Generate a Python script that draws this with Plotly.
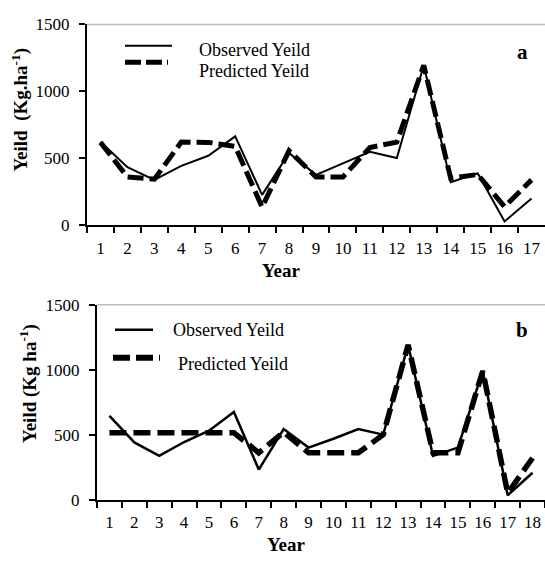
import plotly.graph_objects as go

years_a = [str(i) for i in range(1, 18)]
observed_a = [625, 435, 340, 445, 520, 665, 228, 540, 378, 462, 550, 503, 1195, 322, 390, 30, 202]
predicted_a = [620, 362, 345, 622, 620, 590, 137, 558, 362, 362, 582, 622, 1195, 352, 380, 140, 340]

years_b = [str(i) for i in range(1, 19)]
observed_b = [645, 440, 336, 443, 530, 675, 231, 543, 400, 468, 543, 500, 1190, 336, 400, 990, 33, 207]
predicted_b = [515, 515, 515, 515, 515, 515, 360, 520, 360, 360, 360, 500, 1190, 360, 360, 990, 50, 320]

y_ticks = [0, 500, 1000, 1500]

W, H = 545, 564
def px(x):
    return min(1.0, max(0.0, x / W))
def py(y):
    return min(1.0, max(0.0, 1 - y / H))

FONT = "Liberation Serif, Times New Roman, serif"

fig = go.Figure()
fig.add_trace(go.Scatter(x=years_a, y=observed_a, mode="lines", line=dict(color="black", width=2),
                         xaxis="x", yaxis="y", showlegend=False))
fig.add_trace(go.Scatter(x=years_a, y=predicted_a, mode="lines", line=dict(color="black", width=5, dash="16px,6px"),
                         xaxis="x", yaxis="y", showlegend=False))
fig.add_trace(go.Scatter(x=years_b, y=observed_b, mode="lines", line=dict(color="black", width=2.5),
                         xaxis="x2", yaxis="y2", showlegend=False))
fig.add_trace(go.Scatter(x=years_b, y=predicted_b, mode="lines", line=dict(color="black", width=5.5, dash="17px,7px"),
                         xaxis="x2", yaxis="y2", showlegend=False))

xcommon = dict(type="category", tickson="boundaries", ticks="outside", ticklen=6, tickwidth=2, tickcolor="black",
               showline=True, linecolor="black", linewidth=2, showgrid=False, zeroline=False, tickangle=0,
               tickfont=dict(family=FONT, size=17, color="black"), ticklabelstandoff=6)
ycommon = dict(range=[0, 1500], tickvals=y_ticks, ticks="outside", ticklen=6, tickwidth=2, tickcolor="black",
               showline=True, linecolor="black", linewidth=2, showgrid=False, zeroline=False,
               tickfont=dict(family=FONT, size=17, color="black"), ticklabelstandoff=6)

fig.update_layout(
    width=W, height=H,
    margin=dict(l=0, r=0, t=0, b=0),
    paper_bgcolor="white", plot_bgcolor="white",
    showlegend=False,
    xaxis=dict(domain=[px(87), px(546)], anchor="y", range=[-0.5, len(years_a) - 0.5], **xcommon),
    yaxis=dict(domain=[py(224), py(16)], anchor="x", **ycommon),
    xaxis2=dict(domain=[px(97), px(546)], anchor="y2", range=[-0.5, len(years_b) - 0.5], **xcommon),
    yaxis2=dict(domain=[py(507.7), py(306)], anchor="x2", **ycommon),
)

# top gray border lines
for xr, yr in (("x domain", "y domain"), ("x2 domain", "y2 domain")):
    fig.add_shape(type="line", xref=xr, yref=yr, x0=0, x1=1, y0=1, y1=1,
                  line=dict(color="#bdbdbd", width=1.5))

# manual legends
fig.add_shape(type="line", xref="paper", yref="paper", x0=px(125), x1=px(172), y0=py(38), y1=py(38),
              line=dict(color="black", width=2))
fig.add_shape(type="line", xref="paper", yref="paper", x0=px(125), x1=px(168), y0=py(55), y1=py(55),
              line=dict(color="black", width=5, dash="16px,5px"))
fig.add_shape(type="line", xref="paper", yref="paper", x0=px(115), x1=px(153), y0=py(332), y1=py(332),
              line=dict(color="black", width=2.5))
fig.add_shape(type="line", xref="paper", yref="paper", x0=px(113), x1=px(160), y0=py(361), y1=py(361),
              line=dict(color="black", width=6, dash="17px,6px"))

def text(x, y, s, size=16, bold=False, xanchor="left", angle=0):
    fig.add_annotation(x=px(x), y=py(y), xref="paper", yref="paper", text=(f"<b>{s}</b>" if bold else s),
                       showarrow=False, xanchor=xanchor, yanchor="middle", textangle=angle,
                       font=dict(family=FONT, size=size, color="black"))

text(197, 42, "Observed Yeild", size=18)
text(197, 64, "Predicted Yeild", size=18)
text(171, 332, "Observed Yeild", size=18)
text(176, 367, "Predicted Yeild", size=18)
text(522, 45, "a", size=21, bold=True, xanchor="center")
text(522, 332, "b", size=21, bold=True, xanchor="center")
text(281, 271, "Year", size=19, bold=True, xanchor="center")
text(286, 554, "Year", size=19, bold=True, xanchor="center")
text(20, 104, "Yeild  (Kg.ha<sup>-1</sup>)", size=19, bold=True, xanchor="center", angle=-90)
text(29, 388, "Yeild (Kg ha<sup>-1</sup>)", size=19, bold=True, xanchor="center", angle=-90)

# pin the figure to the window's top-left corner (no page margins / scroll)
post = (
    "document.documentElement.style.margin='0';"
    "document.documentElement.style.overflow='hidden';"
    "document.body.style.margin='0';"
    "document.body.style.overflow='hidden';"
    "var gd=document.getElementById('{plot_id}');"
    "gd.style.position='fixed';gd.style.left='0px';gd.style.top='0px';"
)

fig.write_html("out.html", post_script=post, config={"displayModeBar": False})
